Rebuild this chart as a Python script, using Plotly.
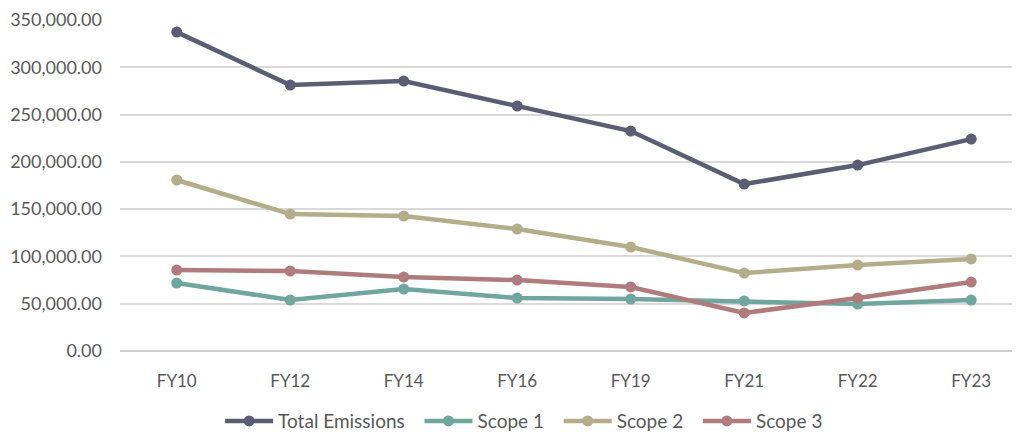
import plotly.graph_objects as go

categories = ["FY10", "FY12", "FY14", "FY16", "FY19", "FY21", "FY22", "FY23"]
total_emissions = [337200, 281200, 285400, 259000, 232600, 176500, 196600, 224100]
scope1 = [71900, 53900, 65500, 56000, 55000, 52900, 49700, 53900]
scope2 = [180800, 144800, 142700, 129000, 109900, 82400, 90900, 97300]
scope3 = [85600, 84600, 78200, 75000, 67700, 40200, 56000, 72900]
y_ticks = [0, 50000, 100000, 150000, 200000, 250000, 300000, 350000]
series_names = ["Total Emissions", "Scope 1", "Scope 2", "Scope 3"]

series = [
    (series_names[0], total_emissions, "#5b5d72"),
    (series_names[1], scope1, "#6fa69e"),
    (series_names[2], scope2, "#b4ad8a"),
    (series_names[3], scope3, "#b07b7c"),
]

pad = "\u00a0\u00a0"
fig = go.Figure()
for i, (name, vals, color) in enumerate(series):
    fig.add_trace(go.Scatter(
        x=categories, y=vals, name=name + (pad if i < len(series) - 1 else ""),
        mode="lines+markers",
        line=dict(color=color, width=4.5),
        marker=dict(color=color, size=11),
    ))

fig.update_layout(
    width=1012, height=425,
    margin=dict(l=112, r=0, t=12, b=82, autoexpand=False),
    paper_bgcolor="white", plot_bgcolor="white",
    font=dict(family="Lato, Open Sans, sans-serif", size=16, color="#595959"),
    showlegend=True,
    legend=dict(orientation="h", x=0.51, xanchor="center", xref="container",
                y=0.028, yanchor="middle", yref="container",
                font=dict(size=19, color="#595959"), itemwidth=48, tracegroupgap=0),
    xaxis=dict(type="category", range=[-0.5, 7.43], showgrid=False, showline=False,
               ticks="", automargin=False, ticklabelstandoff=18,
               tickfont=dict(size=17, color="#595959")),
    yaxis=dict(range=[0, 350000], tickvals=y_ticks, tickformat=",.2f",
               showgrid=True, gridcolor="#d9d9d9", gridwidth=1.5,
               zeroline=True, zerolinecolor="#d0d0d0", zerolinewidth=1.5,
               showline=False, ticks="", ticklen=0, automargin=False,
               ticklabelstandoff=17,
               tickfont=dict(size=18, color="#595959")),
)

fig.write_html("out.html")
